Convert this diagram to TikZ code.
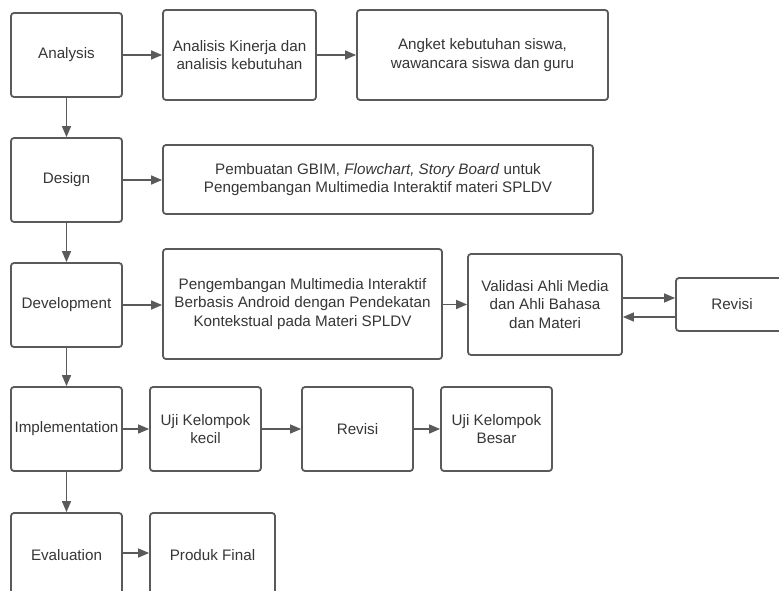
\documentclass[tikz,border=0pt]{standalone}
\usepackage{fontspec}
\setmainfont{Liberation Sans}
\usetikzlibrary{arrows.meta}
\definecolor{linec}{HTML}{5A5A5A}
\definecolor{textc}{HTML}{363636}
\tikzset{
  box/.style={draw=linec, line width=1.8pt, rounded corners=3pt, rectangle,
    align=center, text=textc, inner sep=0pt,
    font=\fontsize{15.2pt}{18.5pt}\selectfont},
  arr/.style={draw=linec, line width=1.5pt, -{Triangle[length=11pt,width=9pt]}}
}
\begin{document}
\begin{tikzpicture}[x=1pt,y=-1pt]
\clip (0,0) rectangle (779,591);
\fill[white] (0,0) rectangle (779,591);
% column 1
\node[box, minimum width=111pt, minimum height=84pt] (ana) at (66.5,55) {Analysis};
\node[box, minimum width=111pt, minimum height=84pt] (des) at (66.5,180) {Design};
\node[box, minimum width=111pt, minimum height=84pt] (dev) at (66.5,305) {Development};
\node[box, minimum width=111pt, minimum height=84pt] (imp) at (66.5,429) {Implementation};
\node[box, minimum width=111pt, minimum height=84pt] (eva) at (66.5,555) {Evaluation};
% row 1
\node[box, minimum width=153pt, minimum height=90pt] (aki) at (239.5,55) {Analisis Kinerja dan\\analisis kebutuhan};
\node[box, minimum width=251pt, minimum height=90pt] (ang) at (482.5,55) {Angket kebutuhan siswa,\\wawancara siswa dan guru};
% row 2
\node[box, minimum width=430pt, minimum height=69pt] (pem) at (378,179.5) {Pembuatan GBIM, \textit{Flowchart, Story Board} untuk\\Pengembangan Multimedia Interaktif materi SPLDV};
% row 3
\node[box, minimum width=279pt, minimum height=110pt] (pen) at (302.5,304) {Pengembangan Multimedia Interaktif\\Berbasis Android dengan Pendekatan\\Kontekstual pada Materi SPLDV};
\node[box, minimum width=154pt, minimum height=101pt] (val) at (545,304.5) {Validasi Ahli Media\\dan Ahli Bahasa\\dan Materi};
\node[box, minimum width=112pt, minimum height=53pt] (rva) at (732,304.5) {Revisi};
% row 4
\node[box, minimum width=111pt, minimum height=84pt] (ujk) at (205.5,429) {Uji Kelompok\\kecil};
\node[box, minimum width=111pt, minimum height=84pt] (rvb) at (357.5,429) {Revisi};
\node[box, minimum width=111pt, minimum height=84pt] (ujb) at (496.5,429) {Uji Kelompok\\Besar};
% row 5
\node[box, minimum width=125pt, minimum height=84pt] (pro) at (212.5,555) {Produk Final};
% vertical arrows
\draw[arr] (ana) -- (des);
\draw[arr] (des) -- (dev);
\draw[arr] (dev) -- (imp);
\draw[arr] (imp) -- (eva);
% horizontal arrows
\draw[arr] (ana.east) -- (aki.west |- ana.east);
\draw[arr] (aki) -- (ang);
\draw[arr] (des.east) -- (pem.west |- des.east);
\draw[arr] (dev.east) -- (pen.west |- dev.east);
\draw[arr] (pen.east |- val.west) -- (val.west);
\draw[arr] ([yshift=6.5pt]val.east) -- ([yshift=6.5pt]rva.west);
\draw[arr] ([yshift=-12.5pt]rva.west) -- ([yshift=-12.5pt]val.east);
\draw[arr] (imp) -- (ujk);
\draw[arr] (ujk) -- (rvb);
\draw[arr] (rvb) -- (ujb);
\draw[arr] ([yshift=2pt]eva.east) -- ([yshift=2pt]pro.west);
\end{tikzpicture}
\end{document}
